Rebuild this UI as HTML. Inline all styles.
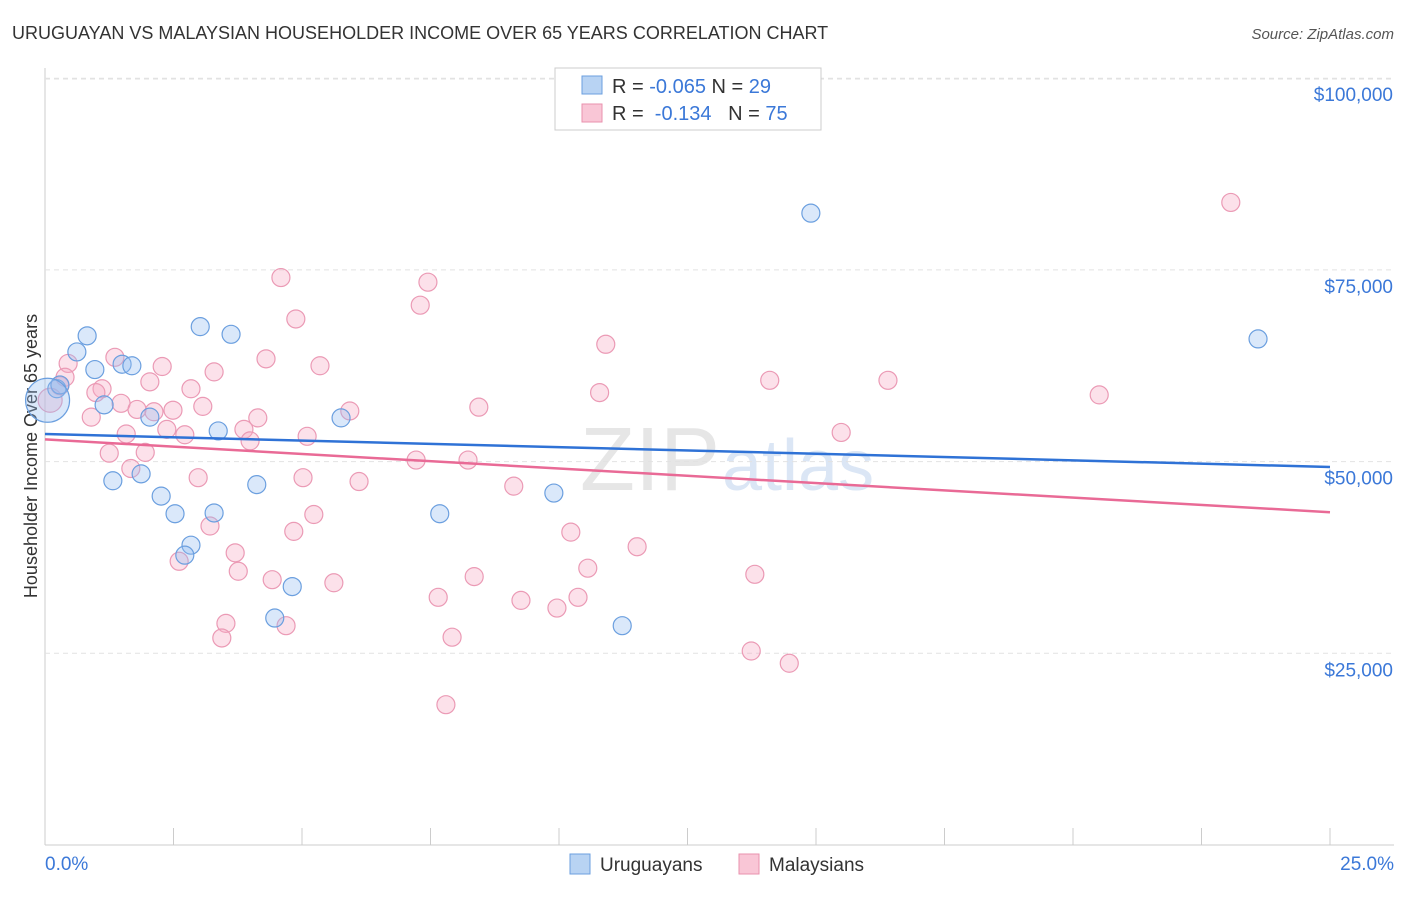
<!DOCTYPE html>
<html><head><meta charset="utf-8"><style>
body{margin:0;background:#fff;font-family:"Liberation Sans",sans-serif;}
svg text{font-family:"Liberation Sans",sans-serif;}
</style></head><body>
<svg id="chart" width="1406" height="892" xmlns="http://www.w3.org/2000/svg">
<text x="12" y="39" font-size="18" fill="#333">URUGUAYAN VS MALAYSIAN HOUSEHOLDER INCOME OVER 65 YEARS CORRELATION CHART</text>
<text x="1394" y="39" font-size="15" fill="#555" text-anchor="end" font-style="italic">Source: ZipAtlas.com</text>
<text x="37" y="456" font-size="18" fill="#333" text-anchor="middle" transform="rotate(-90 37 456)">Householder Income Over 65 years</text>
<text x="720" y="490" font-size="90" fill="#e6e6e6" text-anchor="end" font-family="Liberation Serif">ZIP</text>
<text x="722" y="490" font-size="72" fill="#dbe6f5">atlas</text>
<g id="grid"></g><g id="pts"></g><g id="lines"></g>
<g>
<rect x="555" y="68" width="266" height="62" fill="#fff" stroke="#ccc"/>
<rect x="582" y="76" width="20" height="18" fill="#b8d3f3" stroke="#6b9fdf"/>
<text x="612" y="93" font-size="20" fill="#333">R = <tspan fill="#3b78d8">-0.065</tspan>   N = <tspan fill="#3b78d8">29</tspan></text>
<rect x="582" y="104" width="20" height="18" fill="#f9c6d6" stroke="#e991ae"/>
<text x="612" y="120" font-size="20" fill="#333" xml:space="preserve">R =  <tspan fill="#3b78d8">-0.134</tspan>   N = <tspan fill="#3b78d8">75</tspan></text>
</g>
<g>
<rect x="570" y="854" width="20" height="20" fill="#b8d3f3" stroke="#6b9fdf"/>
<text x="600" y="871" font-size="19" fill="#333">Uruguayans</text>
<rect x="739" y="854" width="20" height="20" fill="#f9c6d6" stroke="#e991ae"/>
<text x="769" y="871" font-size="19" fill="#333">Malaysians</text>
</g>
<text x="45" y="870" font-size="19" fill="#3b78d8">0.0%</text>
<text x="1394" y="870" font-size="19" fill="#3b78d8" text-anchor="end">25.0%</text>
</svg>
<script>
const yTicks=[25000,50000,75000,100000];
const yTickLabels=["$25,000","$50,000","$75,000","$100,000"];
const blueX=[14.9,0.82,3.02,3.62,0.62,0.97,1.50,1.69,1.15,2.04,0.23,0.29,5.76,3.37,1.32,1.87,2.26,2.53,3.29,4.12,2.84,2.72,4.81,4.47,7.68,9.90,11.23,23.6,0.05];
const blueY=[82400,66400,67600,66600,64300,62000,62700,62500,57400,55800,59500,60000,55700,54000,47500,48400,45500,43200,43300,47000,39100,37800,33700,29600,43200,45900,28600,66000,58000];
const pinkX=[23.07,4.59,7.45,7.30,4.88,10.91,1.36,0.45,4.30,5.35,2.28,3.29,14.10,16.40,2.04,2.84,1.11,0.99,10.79,0.29,20.51,1.48,3.07,2.49,8.44,1.79,5.93,2.12,0.90,4.14,3.87,2.37,15.49,1.58,2.72,5.10,3.99,1.25,1.95,7.22,8.23,1.67,2.98,5.02,6.11,9.12,5.23,4.84,3.21,10.23,11.52,3.70,2.61,3.76,10.56,8.35,4.42,5.62,13.81,7.65,10.37,9.26,9.96,3.52,4.69,3.44,7.92,13.74,14.48,7.80,0.10,0.39];
const pinkY=[83800,74000,73400,70400,68600,65300,63600,62800,63400,62500,62400,61700,60600,60600,60400,59500,59500,59000,59000,59900,58700,57600,57200,56700,57100,56800,56600,56500,55800,55700,54200,54200,53800,53600,53500,53300,52700,51100,51200,50200,50200,49100,47900,47900,47400,46800,43100,40900,41600,40800,38900,38100,37000,35700,36100,35000,34600,34200,35300,32300,32300,31900,30900,28900,28600,27000,27100,25300,23700,18300,58000,61000];
const blueTrend=[53600,49300];
const pinkTrend=[52900,43400];
const X0=45,X1=1330,YB=845,PX=191.7/25000;
const xs=v=>X0+v/25*(X1-X0), ys=v=>YB-v*PX;
const NS="http://www.w3.org/2000/svg";
function mk(t,a,p){const e=document.createElementNS(NS,t);for(const k in a)e.setAttribute(k,a[k]);p.appendChild(e);return e;}
const grid=document.getElementById('grid');
mk('line',{x1:X0,y1:68,x2:X0,y2:YB,stroke:'#ccc'},grid);
mk('line',{x1:X0,y1:YB,x2:1394,y2:YB,stroke:'#ccc'},grid);
mk('line',{x1:X0,y1:79,x2:1394,y2:79,stroke:'#e2e2e2','stroke-dasharray':'5,4'},grid);
for(let i=0;i<=10;i++){const t=mk('line',{x1:xs(i*2.5),y1:828,x2:xs(i*2.5),y2:YB,stroke:'#ccc'},grid);

}
yTicks.forEach((v,i)=>{const g=mk('line',{x1:X0,y1:ys(v),x2:1394,y2:ys(v),stroke:'#e2e2e2','stroke-dasharray':'5,4'},grid);


const t=mk('text',{x:1393,y:ys(v)+23-(i==3?0:0),'font-size':19,fill:'#3b78d8','text-anchor':'end'},grid);


t.textContent=yTickLabels[i];});
const pts=document.getElementById('pts');
pinkX.forEach((x,i)=>{const c=mk('circle',{cx:xs(x),cy:ys(pinkY[i]),r:i>=70?(i==70?12:9):9,fill:'rgba(245,170,195,0.35)',stroke:'#eb9ab5','stroke-width':1.2},pts);

});
blueX.forEach((x,i)=>{const c=mk('circle',{cx:xs(x),cy:ys(blueY[i]),r:i==28?22:9,fill:'rgba(150,190,240,0.35)',stroke:'#6b9fdf','stroke-width':1.2},pts);

});
const lines=document.getElementById('lines');
const bl=mk('line',{x1:xs(0),y1:ys(blueTrend[0]),x2:xs(25),y2:ys(blueTrend[1]),stroke:'#2f72d6','stroke-width':2.5},lines);


const pl=mk('line',{x1:xs(0),y1:ys(pinkTrend[0]),x2:xs(25),y2:ys(pinkTrend[1]),stroke:'#e96a96','stroke-width':2.5},lines);


</script>
</body></html>
